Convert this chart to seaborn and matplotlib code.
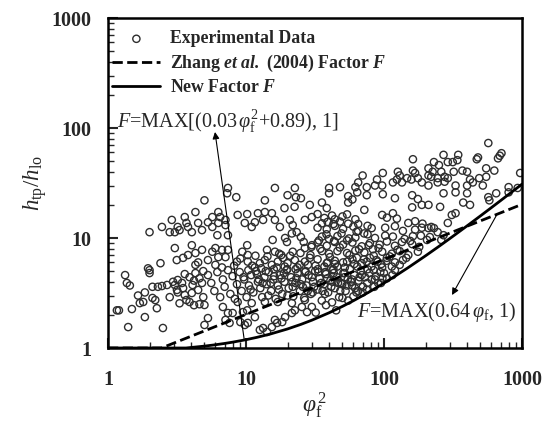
import numpy as np
import pandas as pd
import matplotlib
matplotlib.use("Agg")
import matplotlib.pyplot as plt
import seaborn as sns
from matplotlib.ticker import LogLocator, NullFormatter

# ---------------- data ----------------
# experimental data, low-phi region
grp_a_x = [1.16, 1.2, 1.33, 1.37, 1.44, 1.49, 1.85, 1.4, 2.5, 1.65,
           1.85, 1.7, 1.8, 2.0, 2.1, 2.2, 2.26, 2.1, 2.3, 2.46,
           2.68, 3.05, 3.16, 3.2, 3.44, 3.5, 3.6, 3.7, 3.9, 4.05,
           4.1, 4.5, 4.8, 4.9, 2.0, 2.96, 2.8, 3.2, 3.9, 4.3,
           4.6, 3.6, 4.9, 4.2, 4.6, 4.2, 3.3]
grp_a_y = [2.2, 2.2, 4.6, 3.9, 3.7, 2.26, 1.91, 1.55, 1.52, 3.0,
           3.2, 2.56, 2.62, 4.8, 3.6, 2.73, 2.3, 2.85, 3.6, 3.66,
           3.74, 3.74, 3.37, 3.2, 3.9, 3.5, 3.03, 2.73, 2.62, 3.16,
           3.74, 3.37, 3.9, 2.9, 5.1, 4.0, 2.9, 4.15, 4.4, 4.8,
           4.3, 4.7, 5.0, 4.1, 2.5, 2.45, 2.55]

grp_b_x = [2.0, 2.46, 2.8, 2.9, 3.05, 3.2, 3.6, 3.7, 4.3, 4.05,
           4.5, 3.8, 3.3, 4.8, 3.05, 4.05, 3.15, 3.5, 3.8, 4.3,
           2.4, 1.95, 4.8, 4.5, 4.3]
grp_b_y = [11.3, 12.6, 11.3, 14.6, 11.3, 12.6, 15.5, 13.7, 17.2, 11.3,
           13.7, 12.6, 11.8, 11.8, 8.1, 8.6, 6.3, 6.6, 7.0, 7.3,
           5.9, 5.3, 7.8, 6.0, 5.7]

grp_c_x = [7.3, 13.7, 20, 23, 25, 19, 22.5, 29, 8.7, 10.2,
           12.2, 13.7, 15.4, 13.3, 11.6, 9.8, 11, 16.2, 17.6, 20.8,
           21.8, 23.3, 26.7, 30, 5.7, 6.3, 6.5, 7.1, 5.3, 5.7,
           6.3, 7.1, 6.2, 7.4, 15.6, 19.8, 19.2, 21.5, 25, 10.2,
           9.4, 10.3, 14.2, 16.2, 18, 21.8, 26.7, 30, 5.7, 6.0,
           6.7, 7.4, 6.3, 7.1, 5.3, 6.0, 6.7, 8.6, 10.3, 11.6,
           12.6, 13.7, 15.4, 17, 18.5, 20, 22.6, 24.5, 26.7, 29,
           5.0, 16.2, 22.6, 7.4, 8.5]
grp_c_y = [25.5, 22, 24.5, 23.5, 23, 18.7, 19.2, 20, 16.2, 16.5,
           16.8, 17.2, 16.8, 14.6, 13.9, 13.7, 12.6, 14.6, 12.6, 14.6,
           13.1, 11.3, 14.6, 15.5, 15.5, 17.2, 15.5, 14.6, 13.9, 12.6,
           13.7, 13.1, 10.6, 10.6, 9.6, 9.2, 10, 11, 10.2, 8.6,
           7.5, 7.0, 7.8, 7.5, 7.0, 7.5, 8.1, 8.6, 7.5, 8.1,
           7.8, 7.8, 6.7, 6.7, 6.3, 5.7, 5.4, 6.1, 6.1, 5.4,
           5.9, 6.3, 5.7, 6.1, 6.6, 5.9, 6.3, 5.7, 6.1, 6.6,
           22, 28.5, 28.5, 28.5, 23.5]

grp_d_x = [5.0, 5.3, 6.8, 7.4, 7.1, 7.6, 9.1, 9.8, 10.3, 9.5,
           10.2, 8.0, 11.6, 12.6, 13.3, 14.2, 15.4, 16.8, 16.2, 18.3,
           19.2, 21.5, 22.6, 25.4, 27.7, 30, 5.0, 8.7, 11, 13.7,
           17, 21.5, 26.7]
grp_d_y = [2.46, 1.87, 2.36, 2.08, 1.8, 1.69, 1.72, 1.62, 1.69, 2.12,
           2.2, 2.08, 1.91, 1.46, 1.52, 1.4, 1.55, 1.69, 1.8, 1.72,
           1.91, 2.08, 2.2, 2.36, 2.12, 2.36, 1.62, 2.62, 2.56, 2.62,
           2.62, 2.56, 2.73]

grp_e_x = [162, 70, 98, 89, 126, 130, 124, 147, 162, 168,
           158, 176, 188, 116, 135, 97, 86, 75, 62, 65,
           48, 40]
grp_e_y = [52, 37, 39, 34, 40, 37, 34, 35, 41, 39,
           34, 35, 32, 32, 32, 30, 30, 29, 29, 32,
           29, 28.5]

grp_f_x = [40, 55, 64, 75, 98, 120, 160, 176, 35.5, 38.5,
           55, 59, 72, 97, 105, 116, 124, 150, 168, 160,
           188, 33, 37, 42, 44, 50, 54, 35.5, 39, 43,
           48, 55, 62, 65, 33, 38.5, 44, 50.5, 60, 65,
           76, 102, 120, 137, 168, 188, 35.5, 40, 46, 54,
           62, 76, 86, 102, 116, 141, 162, 33, 38.5, 44,
           50.5, 59, 69, 79, 93, 105, 120, 135, 160, 35.5,
           40, 46, 54, 62, 72, 83, 97, 114, 130, 150,
           176, 33, 38.5, 44, 50.5, 59, 69, 79, 90, 105,
           120, 137, 37, 43, 52, 64, 76, 97, 114, 130]
grp_f_y = [25.5, 24.0, 26.0, 24.5, 25.0, 23, 24.5, 22.6, 21, 18.7,
           21, 22.4, 18, 16.2, 15.3, 16.8, 15.0, 13.7, 14.2, 19,
           20, 16.5, 15.2, 16.0, 14.8, 15.7, 16.4, 13.6, 14.0, 13.4,
           14.1, 13.5, 14.8, 13.4, 12.4, 12.0, 12.9, 12.1, 12.7, 11.6,
           12.9, 12.4, 12.8, 11.6, 11.9, 12.4, 10.3, 9.8, 10.4, 9.5,
           10.1, 10.8, 10.0, 10.5, 10.3, 9.8, 10.4, 9.1, 8.5, 9.2,
           8.7, 9.1, 8.4, 9.0, 8.7, 9.3, 8.5, 9.2, 8.8, 7.6,
           7.2, 7.6, 7.3, 7.7, 7.4, 7.9, 7.5, 7.2, 7.6, 7.0,
           7.5, 6.4, 5.9, 6.2, 6.0, 6.4, 5.9, 6.6, 6.1, 6.6,
           6.0, 6.3, 5.5, 5.2, 5.4, 5.5, 5.2, 5.4, 5.5, 5.7]

grp_g_x = [570, 710, 690, 670, 480, 470, 345, 340, 315, 290,
           270, 230, 250, 550, 630, 970, 370, 400, 210, 225,
           260, 275, 290, 245, 220, 210, 320, 490, 550, 520,
           330, 400, 800, 930, 210, 245, 275, 420, 440]
grp_g_y = [73, 59, 56, 53, 54, 52, 57, 51, 49, 49,
           57, 49, 46, 43, 41, 39, 41, 40, 43, 40,
           40, 36, 35, 35, 36, 37, 40, 35, 36, 30,
           30, 30, 29, 28.5, 30, 32, 32.5, 34, 32]

grp_h_x = [270, 330, 400, 570, 580, 650, 800, 255, 210, 375,
           420, 310, 330, 290, 210, 220, 230, 245, 215, 205,
           270, 260]
grp_h_y = [25.5, 26, 25.5, 23.5, 22, 25.5, 26, 19.2, 20, 21,
           20, 16.2, 16.8, 13.7, 12.3, 12.6, 12.3, 11.3, 10.2, 9.6,
           10.6, 9.6]

grp_i_x = [5.3, 5.6, 5.9, 6.2, 6.5, 6.8, 7.0, 7.4, 7.7, 8.0,
           8.3, 8.6, 9.0, 9.3, 9.7, 10.1, 10.5, 10.9, 11.3, 11.8,
           12.2, 12.7, 13.1, 13.6, 14.1, 14.6, 15.2, 15.8, 16.4, 17.0,
           17.6, 18.3, 19.0, 19.7, 20.4, 21.2, 22.0, 22.8, 23.7, 24.6,
           25.5, 26.4, 27.4, 28.4, 29.5, 30.6, 31.7, 32.9, 34.1, 35.4,
           36.7, 38.0, 39.4, 40.9, 42.4, 44, 45.6, 47.3, 49, 50.8,
           52.7, 54.6, 56.6, 58.7, 60.9, 63.1, 65.4, 67.8, 70.3, 72.9,
           75.6, 78.4, 81.3, 84.3, 87.4, 90.6, 94, 97.4]
grp_i_y = [4.6, 3.9, 3.3, 4.9, 2.9, 4.2, 3.6, 5.1, 3.1, 4.5,
           2.8, 3.8, 4.9, 3.3, 4.2, 2.9, 3.7, 4.6, 3.2, 5.0,
           4.0, 3.5, 2.9, 4.4, 3.8, 4.9, 3.3, 4.2, 2.8, 3.7,
           4.6, 3.1, 4.0, 5.1, 3.5, 4.4, 2.95, 3.9, 4.8, 3.3,
           4.2, 2.85, 3.7, 4.6, 3.1, 4.0, 5.0, 3.4, 4.3, 2.7,
           3.8, 4.7, 3.2, 4.1, 5.1, 3.5, 4.4, 2.9, 3.9, 4.8,
           3.3, 4.2, 5.2, 3.7, 4.6, 3.2, 4.1, 5.0, 3.6, 4.4,
           3.9, 4.8, 4.2, 5.1, 4.5, 3.9, 4.9, 4.3]

grp_j_x = [10.8, 12.0, 13.2, 14.5, 16.0, 17.3, 18.8, 20.0, 21.8, 23.2,
           24.9, 26.8, 28.0, 30.0, 31.2, 33.5, 35.0, 37.3, 38.8, 41.5,
           43.2, 46.4, 48.2, 51.7, 53.6, 57.5, 61.8, 66.5,
           32, 45, 55, 38, 42, 50, 60, 65, 70, 75,
           85, 95, 105, 115, 86, 100, 120,
           110, 125, 155, 185, 145, 180, 190]
grp_j_y = [3.4, 4.7, 3.9, 3.0, 4.5, 3.4, 4.8, 3.0, 3.6, 4.3,
           3.8, 4.9, 3.3, 4.4, 3.6, 4.9, 3.9, 3.1, 4.3, 3.6,
           4.8, 3.9, 3.3, 4.4, 3.7, 4.0, 3.5, 4.4,
           2.1, 2.2, 2.7, 2.45, 2.6, 2.85, 2.95, 3.3, 3.2, 3.4,
           3.6, 3.9, 4.3, 4.6, 4.2, 4.8, 5.1,
           6.8, 7.8, 9.4, 10.5, 6.6, 8.3, 13.5]

grp_k_x = [8.2, 9.1, 10.4, 11.7, 12.9, 14.3, 15.9, 17.4, 19.1, 20.9,
           22.9, 24.8, 27.0, 29.3, 31.9, 34.6, 37.5, 40.6, 44.1, 47.8,
           51.8, 56.2, 60.9, 66.0, 71.6, 77.6, 84.2, 91.3,
           9.6, 11.1, 12.4, 13.9, 15.1, 16.7, 18.1, 19.9, 21.7, 23.6,
           25.8, 28.1, 30.4, 33.1, 35.9, 39.0, 42.3, 45.9, 49.8, 54.0,
           58.6, 63.6, 69.0, 74.9, 81.2, 88.1, 95.6, 104,
           26.2, 29.8, 33.8, 38.3, 43.4, 49.2, 55.8, 63.3, 71.8, 81.4]
grp_k_y = [5.6, 6.5, 5.1, 6.9, 5.3, 6.8, 5.2, 7.2, 5.5, 6.9,
           5.2, 7.3, 5.0, 7.0, 5.6, 8.0, 4.9, 6.7, 5.8, 8.2,
           4.8, 7.0, 5.8, 7.9, 6.4, 8.6, 6.9, 8.1,
           4.4, 5.6, 4.2, 5.0, 3.9, 5.4, 4.3, 5.2, 4.0, 5.4,
           3.6, 5.7, 3.2, 5.2, 3.3, 6.0, 4.0, 5.5, 3.8, 6.1,
           4.2, 6.6, 4.6, 6.1, 5.5, 6.3, 5.8, 6.2,
           9.2, 8.3, 9.5, 10.8, 9.4, 11.0, 9.9, 11.4, 11.0, 12.3]

# Zhang et al. (2004) factor F
zhang_x = [1, 2.44, 5, 10, 20, 50, 100, 200, 500, 1000]
zhang_y = [1, 1, 1.43, 2.02, 2.86, 4.53, 6.40, 9.05, 14.31, 20.24]

# New factor F
new_x = [1, 3.67, 5, 6, 7, 8, 10, 12, 15, 20,
         25, 30, 40, 50, 60, 70, 80, 100, 120, 150,
         200, 250, 300, 400, 500, 600, 700, 850, 1000]
new_y = [1, 1, 1.04, 1.07, 1.1, 1.13, 1.19, 1.25, 1.34, 1.49,
         1.64, 1.79, 2.09, 2.39, 2.69, 2.99, 3.29, 3.89, 4.49, 5.39,
         6.89, 8.39, 9.89, 12.89, 15.89, 18.89, 21.89, 26.39, 30.89]

tick_vals = [1, 10, 100, 1000]
tick_labels = ["1", "10", "100", "1000"]
series_labels = ["Experimental Data",
                 r"Zhang $\mathbfit{et\ al.}$ (2004) Factor $\mathbfit{F}$",
                 r"New Factor $\mathbfit{F}$"]

# ---------------- assemble ----------------
xs = (grp_a_x + grp_b_x + grp_c_x + grp_d_x + grp_e_x + grp_f_x + grp_g_x
      + grp_h_x + grp_i_x + grp_j_x + grp_k_x)
ys = (grp_a_y + grp_b_y + grp_c_y + grp_d_y + grp_e_y + grp_f_y + grp_g_y
      + grp_h_y + grp_i_y + grp_j_y + grp_k_y)
exp_df = pd.DataFrame({"phi2": xs, "ratio": ys})
zhang_df = pd.DataFrame({"phi2": zhang_x, "F": zhang_y})
new_df = pd.DataFrame({"phi2": new_x, "F": new_y})

sns.set_theme(style="ticks")
plt.rcParams["font.family"] = ["Liberation Serif", "DejaVu Serif"]
plt.rcParams["mathtext.fontset"] = "custom"
plt.rcParams["mathtext.rm"] = "Liberation Serif"
plt.rcParams["mathtext.it"] = "Liberation Serif:italic"
plt.rcParams["mathtext.bf"] = "Liberation Serif:bold"
plt.rcParams["mathtext.bfit"] = "Liberation Serif:italic:bold"

fig = plt.figure(figsize=(5.44, 4.25), dpi=100)
fig.patch.set_facecolor("white")
ax = fig.add_axes([108 / 544, 77 / 425, 414 / 544, 330 / 425])
ax.set_facecolor("white")

sns.scatterplot(data=exp_df, x="phi2", y="ratio", ax=ax, marker="o", s=27,
                facecolor="none", edgecolor="#2e2e2e", linewidth=1.0,
                label=series_labels[0], zorder=2)
sns.lineplot(data=zhang_df, x="phi2", y="F", ax=ax, color="black", linewidth=2.0,
             linestyle="--", sort=False, estimator=None, label=series_labels[1], zorder=3)
sns.lineplot(data=new_df, x="phi2", y="F", ax=ax, color="black", linewidth=2.0,
             sort=False, estimator=None, label=series_labels[2], zorder=3)

ax.set_xscale("log")
ax.set_yscale("log")
ax.set_xlim(1, 1000)
ax.set_ylim(1, 1000)
ax.set_xticks(tick_vals, labels=tick_labels)
ax.set_yticks(tick_vals, labels=tick_labels)
for axis in (ax.xaxis, ax.yaxis):
    axis.set_minor_locator(LogLocator(base=10, subs=np.arange(2, 10)))
    axis.set_minor_formatter(NullFormatter())

ax.tick_params(which="major", direction="in", length=7, width=1.5,
               top=False, right=False)
ax.tick_params(which="minor", direction="in", length=4, width=1.0,
               top=False, right=False)
ax.tick_params(axis="x", which="major", pad=16)
ax.tick_params(axis="y", which="major", pad=12)
for lab in ax.get_xticklabels() + ax.get_yticklabels():
    lab.set_fontweight("bold")
    lab.set_fontsize(14.5)
for sp in ax.spines.values():
    sp.set_linewidth(1.8)
    sp.set_color("black")

ax.set_xlabel(r"$\varphi_{\rm f}^{\,2}$", fontsize=17, labelpad=0)
ax.set_ylabel(r"$h_{\rm tp}/h_{\rm lo}$", fontsize=16.5, labelpad=2)

handles, labels = ax.get_legend_handles_labels()
order = [labels.index(l) for l in series_labels]
ax.legend([handles[i] for i in order], [labels[i] for i in order],
          loc="upper left", bbox_to_anchor=(0.002, 0.973), frameon=False,
          prop={"weight": "bold", "size": 12.8}, handlelength=2.7,
          handletextpad=0.55, labelspacing=0.3, borderaxespad=0, borderpad=0.2)

# annotations
ax.text(0.022, 0.688, r"$F$=MAX[(0.03$\,\varphi_{\rm f}^{2}$+0.89), 1]",
        transform=ax.transAxes, fontsize=14.5, ha="left", va="center")
ax.annotate("", xy=(5.96, 92), xytext=(9.7, 1.2),
            arrowprops=dict(arrowstyle="-|>", color="black", lw=0.8,
                            mutation_scale=10, shrinkA=0, shrinkB=0))
ax.text(0.601, 0.109, r"$F$=MAX(0.64$\,\varphi_{\rm f}$, 1)",
        transform=ax.transAxes, fontsize=14.5, ha="left", va="center")
ax.annotate("", xy=(311, 3.03), xytext=(659, 16.4),
            arrowprops=dict(arrowstyle="-|>", color="black", lw=0.8,
                            mutation_scale=10, shrinkA=0, shrinkB=0))

fig.savefig("out.png", dpi=100, facecolor="white")
